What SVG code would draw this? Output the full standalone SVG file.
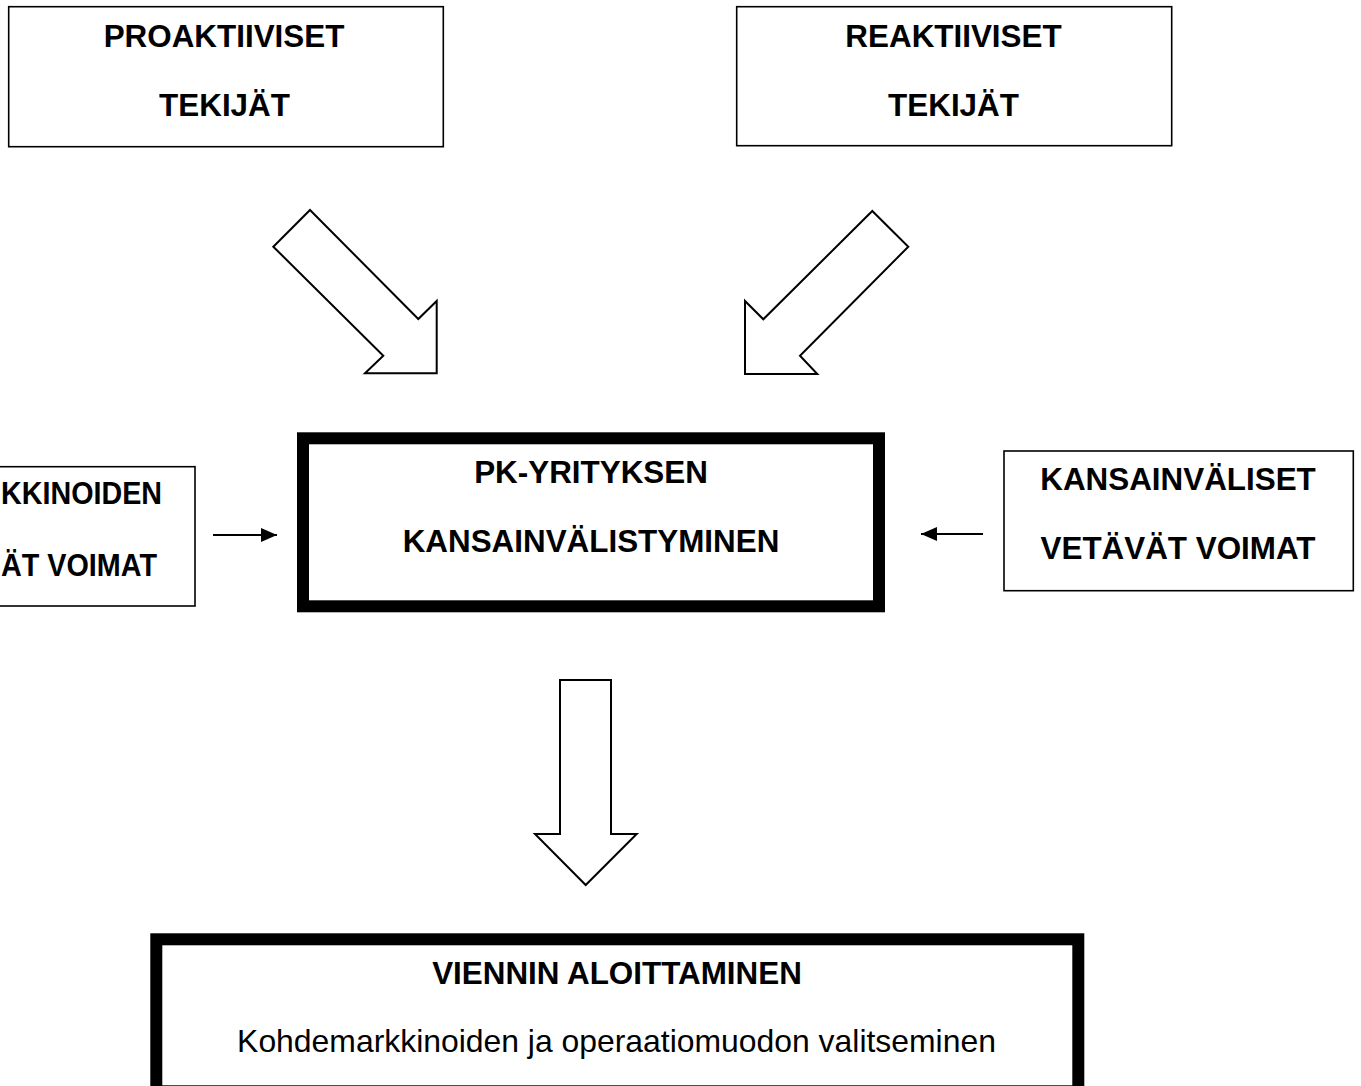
<svg xmlns="http://www.w3.org/2000/svg" width="1361" height="1086" viewBox="0 0 1361 1086">
<defs>
<style>
.box{fill:#fff;stroke:#000;stroke-width:1.6}
.thick{fill:#fff;stroke:#000;stroke-width:12}
.blk{fill:#fff;stroke:#000;stroke-width:2;stroke-linejoin:miter}
.t{font-family:"Liberation Sans",Arial,sans-serif;font-size:31.4px;font-weight:bold;fill:#000;text-anchor:middle}
.r{font-family:"Liberation Sans",Arial,sans-serif;font-size:31.9px;fill:#000;text-anchor:middle}
.ln{stroke:#000;stroke-width:2;fill:none}
</style>
<marker id="ah" viewBox="0 0 16 14" refX="16" refY="7" markerWidth="16" markerHeight="14" markerUnits="userSpaceOnUse" orient="auto">
<path d="M0,0 L16,7 L0,14 Z" fill="#000"/>
</marker>
</defs>
<rect width="1361" height="1086" fill="#fff"/>
<g id="proaktiiviset">
<rect class="box" x="8.7" y="6.7" width="434.6" height="140"/>
<text class="t" x="224" y="46.5">PROAKTIIVISET</text>
<text class="t" x="224.5" y="115.5">TEKIJÄT</text>
</g>
<g id="reaktiiviset">
<rect class="box" x="736.7" y="6.7" width="435" height="139"/>
<text class="t" x="953.5" y="46.5">REAKTIIVISET</text>
<text class="t" x="953.5" y="115.5">TEKIJÄT</text>
</g>
<g id="kotimarkkinoiden">
<rect class="box" x="-160" y="466.7" width="355" height="139.3"/>
<text class="t" x="1" y="503.5" style="text-anchor:start" textLength="161" lengthAdjust="spacingAndGlyphs">KKINOIDEN</text>
<text class="t" x="1" y="576" style="text-anchor:start" textLength="156" lengthAdjust="spacingAndGlyphs">ÄT VOIMAT</text>
</g>
<g id="kansainvaliset">
<rect class="box" x="1004" y="451" width="349.3" height="139.7"/>
<text class="t" x="1178" y="490">KANSAINVÄLISET</text>
<text class="t" x="1178" y="558.5">VETÄVÄT VOIMAT</text>
</g>
<g id="pk-yritys">
<rect class="thick" x="303" y="438.3" width="576" height="168"/>
<text class="t" x="591" y="483">PK-YRITYKSEN</text>
<text class="t" x="591" y="552">KANSAINVÄLISTYMINEN</text>
</g>
<g id="vienti">
<rect class="thick" x="156.3" y="939.3" width="922" height="152"/>
<text class="t" x="617" y="984">VIENNIN ALOITTAMINEN</text>
<text class="r" x="616.5" y="1052">Kohdemarkkinoiden ja operaatiomuodon valitseminen</text>
</g>
<g id="connectors">
<polygon class="blk" points="310,210 418.3,319 436.7,301 436.7,373.3 365,373.3 383.3,355.7 273.3,246.7"/>
<polygon class="blk" points="872.3,211 908.3,246.7 800,355.7 817.3,374 745,374 745,301 763.3,319.3"/>
<polygon class="blk" points="560,680 611,680 611,834 636.7,834 585.7,885 535,834 560,834"/>
<line class="ln" x1="213" y1="535" x2="277" y2="535" marker-end="url(#ah)"/>
<line class="ln" x1="983" y1="534" x2="921" y2="534" marker-end="url(#ah)"/>
</g>
</svg>
